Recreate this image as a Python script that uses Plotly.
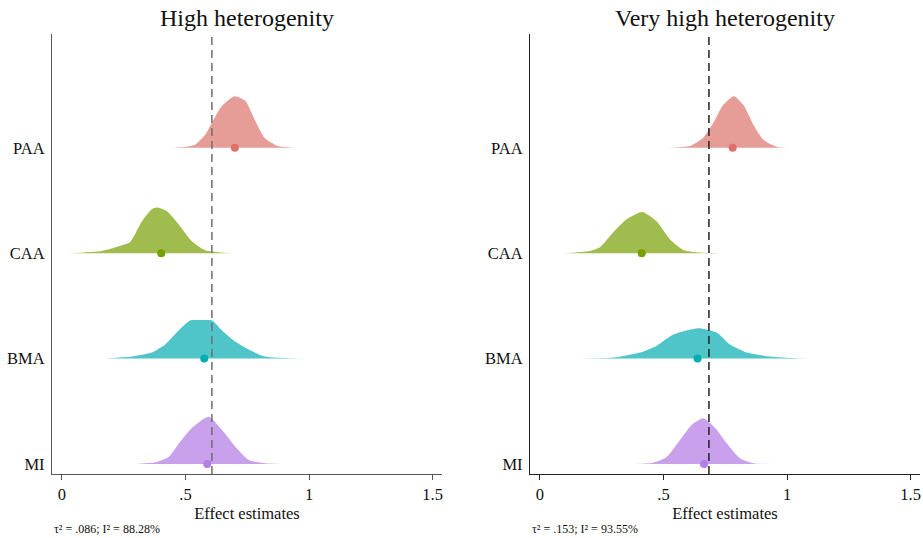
import plotly.graph_objects as go

# ---------------- data ----------------
methods = ["PAA", "CAA", "BMA", "MI"]
row_pos = [3, 2, 1, 0]
panel_titles = ["High heterogenity", "Very high heterogenity"]
panel_notes = ["τ² = .086; I² = 88.28%", "τ² = .153; I² = 93.55%"]
pooled_line = [0.607, 0.684]

x_ticks = [0, 0.5, 1, 1.5]
x_tick_labels = ["0", ".5", "1", "1.5"]
x_title = "Effect estimates"

# point estimates (dots)
est_high = [0.700, 0.402, 0.576, 0.588]
est_vhigh = [0.780, 0.412, 0.638, 0.664]

# density outlines (x, relative height)
paa_high_x = [0.445, 0.50, 0.54, 0.58, 0.607, 0.648, 0.699, 0.742, 0.782, 0.82, 0.874, 0.943]
paa_high_d = [0, 1, 3.3, 13, 25, 42, 51.6, 47, 27, 10, 1.7, 0]
caa_high_x = [0.027, 0.162, 0.23, 0.275, 0.324, 0.364, 0.385, 0.425, 0.472, 0.526, 0.58, 0.688]
caa_high_d = [0, 2.3, 7, 11, 32, 44, 45.7, 42, 29, 12, 3, 0]
bma_high_x = [0.175, 0.283, 0.364, 0.418, 0.472, 0.52, 0.565, 0.607, 0.648, 0.695, 0.756, 0.823, 0.985]
bma_high_d = [0, 2, 6, 14, 28, 38.3, 38.5, 38.3, 28, 18, 9, 2, 0]
mi_high_x = [0.297, 0.378, 0.432, 0.472, 0.526, 0.594, 0.648, 0.702, 0.756, 0.822, 0.891]
mi_high_d = [0, 1.7, 7, 20, 36, 47.3, 34, 17.3, 4, 0.7, 0]

paa_vhigh_x = [0.506, 0.607, 0.661, 0.702, 0.742, 0.785, 0.823, 0.864, 0.904, 0.958, 1.026]
paa_vhigh_d = [0, 1.7, 10, 25, 43, 51.7, 43, 23, 8, 1, 0]
caa_vhigh_x = [0.094, 0.202, 0.243, 0.297, 0.351, 0.414, 0.472, 0.526, 0.58, 0.648, 0.729]
caa_vhigh_d = [0, 2.3, 6, 21, 34, 41.3, 32, 14, 3.3, 0.7, 0]
bma_vhigh_x = [0.067, 0.297, 0.405, 0.472, 0.54, 0.641, 0.715, 0.769, 0.837, 0.931, 1.039, 1.227]
bma_vhigh_d = [0, 1, 6, 12.7, 24, 30.3, 26, 14, 6, 2, 0.3, 0]
mi_vhigh_x = [0.364, 0.459, 0.513, 0.567, 0.614, 0.661, 0.709, 0.756, 0.81, 0.864, 0.945]
mi_vhigh_d = [0, 1.3, 7, 24, 39, 45.7, 36, 20.7, 5.7, 0.7, 0]

dens_high = [(paa_high_x, paa_high_d), (caa_high_x, caa_high_d),
             (bma_high_x, bma_high_d), (mi_high_x, mi_high_d)]
dens_vhigh = [(paa_vhigh_x, paa_vhigh_d), (caa_vhigh_x, caa_vhigh_d),
              (bma_vhigh_x, bma_vhigh_d), (mi_vhigh_x, mi_vhigh_d)]

# ---------------- style ----------------
fill_colors = ["#E69C97", "#A0BC4E", "#4FC5C9", "#C8A0EC"]
dot_colors = ["#E0706A", "#76A000", "#00AEB5", "#B67DE6"]
FONT = "Palatino Linotype, Palatino, 'URW Palladio L', 'Liberation Serif', serif"
SCALE = 1 / 105.5   # ridge height scaling

fig = go.Figure()

panels = [
    dict(xa="x", ya="y", dens=dens_high, est=est_high),
    dict(xa="x2", ya="y2", dens=dens_vhigh, est=est_vhigh),
]
for p in panels:
    for i, m in enumerate(methods):
        xs, ds = p["dens"][i]
        base = row_pos[i]
        fig.add_trace(go.Scatter(
            x=xs, y=[base + d * SCALE for d in ds],
            xaxis=p["xa"], yaxis=p["ya"],
            mode="lines", line=dict(width=0, shape="spline", smoothing=0.6),
            fill="toself", fillcolor=fill_colors[i],
            hoverinfo="skip", showlegend=False))
    for i, m in enumerate(methods):
        fig.add_trace(go.Scatter(
            x=[p["est"][i]], y=[row_pos[i]],
            xaxis=p["xa"], yaxis=p["ya"],
            mode="markers", marker=dict(size=8, color=dot_colors[i]),
            name=m, showlegend=False))

x_range = [-0.04, 1.538]
y_range = [-0.095, 4.08]
dom_y = [0.119, 0.9368]
axis_common = dict(range=x_range, tickvals=x_ticks, ticktext=x_tick_labels,
                   ticks="outside", ticklen=5, tickwidth=1, showline=True,
                   linewidth=1.2, showgrid=False, zeroline=False,
                   tickfont=dict(family=FONT, size=16.5, color="#111"),
                   title=dict(text=x_title, font=dict(family=FONT, size=16.5, color="#111"), standoff=4),
                   automargin=False, fixedrange=True)
yaxis_common = dict(range=y_range, tickvals=row_pos, ticktext=methods, ticks="",
                    showline=True, linewidth=1.2, showgrid=False, zeroline=False,
                    tickfont=dict(family=FONT, size=16.5, color="#111"),
                    automargin=False, fixedrange=True, ticklabelstandoff=3)

fig.update_layout(
    width=923, height=538,
    margin=dict(l=0, r=0, t=0, b=0),
    paper_bgcolor="white", plot_bgcolor="white",
    xaxis=dict(domain=[52 / 923, 442 / 923], anchor="y", linecolor="#555", tickcolor="#555", **axis_common),
    yaxis=dict(domain=dom_y, anchor="x", linecolor="#555", **yaxis_common),
    xaxis2=dict(domain=[530 / 923, 920 / 923], anchor="y2", linecolor="#222", tickcolor="#222", **axis_common),
    yaxis2=dict(domain=dom_y, anchor="x2", linecolor="#222", **yaxis_common),
)

line_colors = ["#6e6e6e", "#222222"]
for k, (xa, ya) in enumerate([("x", "y"), ("x2", "y2")]):
    fig.add_shape(type="line", xref=xa, yref=ya + " domain",
                  x0=pooled_line[k], x1=pooled_line[k], y0=0, y1=1,
                  line=dict(color=line_colors[k], width=1.5, dash="8px,5px"), layer="above")

title_x = [(52 + 442) / 2 / 923, (530 + 920) / 2 / 923]
for k in range(2):
    fig.add_annotation(text=panel_titles[k], xref="paper", yref="paper",
                       x=title_x[k], y=1 - 18 / 538, xanchor="center", yanchor="middle",
                       showarrow=False, font=dict(family=FONT, size=24, color="#111"))
    fig.add_annotation(text=panel_notes[k], xref="paper", yref="paper",
                       x=[52 / 923, 530 / 923][k], y=1 - 529 / 538, xanchor="left", yanchor="middle",
                       showarrow=False, font=dict(family=FONT, size=12, color="#111"))

fig.write_html("out.html", config={"displayModeBar": False},
               post_script="document.body.style.margin='0';document.body.style.overflow='hidden';")
